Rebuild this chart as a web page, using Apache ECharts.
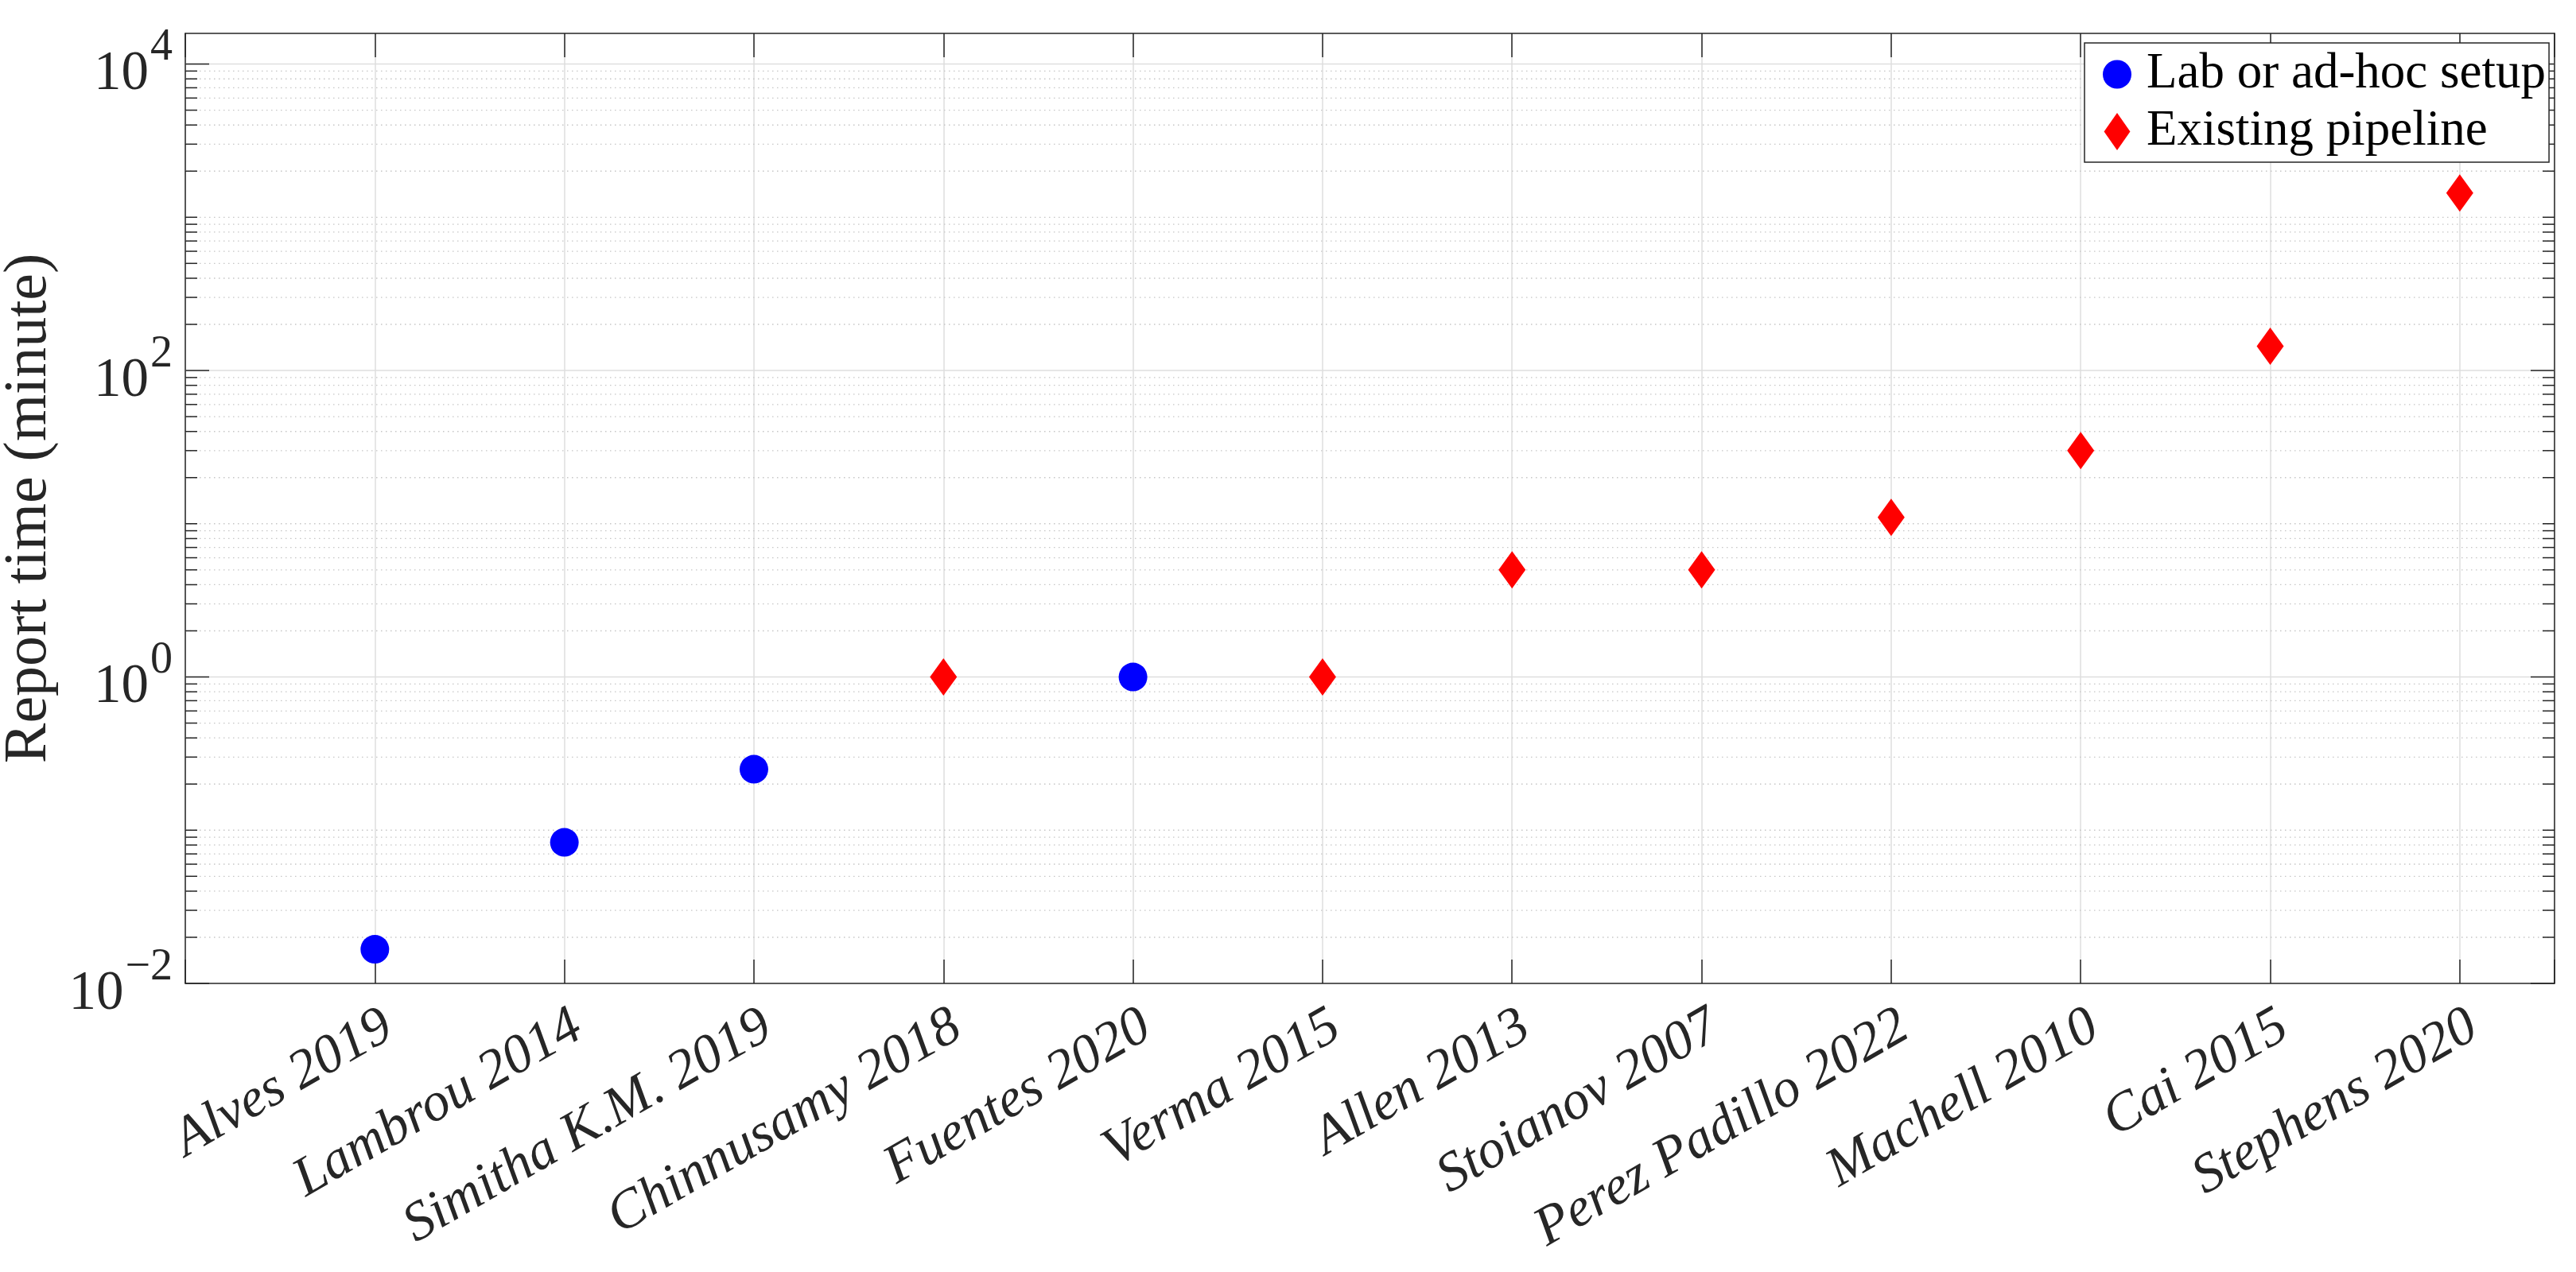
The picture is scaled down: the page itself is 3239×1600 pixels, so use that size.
<!DOCTYPE html>
<html>
<head>
<meta charset="utf-8">
<script src="https://cdn.jsdelivr.net/npm/echarts@6/dist/echarts.min.js"></script>
<style>
html,body{margin:0;padding:0;background:#fff;}
#chart{width:3239px;height:1600px;}
</style>
</head>
<body>
<div id="chart"></div>
<script>
// ---- data ----
const categories = ['Alves 2019', 'Lambrou 2014', 'Simitha K.M. 2019', 'Chinnusamy 2018', 'Fuentes 2020',
  'Verma 2015', 'Allen 2013', 'Stoianov 2007', 'Perez Padillo 2022', 'Machell 2010', 'Cai 2015', 'Stephens 2020'];
const labTimes      = [0.0167, 0.0833, 0.25, null, 1, null, null, null, null, null, null, null];
const pipelineTimes = [null, null, null, 1, null, 1, 5, 5, 11, 30, 144, 1440];
const seriesNames = ['Lab or ad-hoc setup', 'Existing pipeline'];
const yTickExponents = [-2, 0, 2, 4];

// ---- setup ----
const FONT = 'Liberation Serif';
const AX = '#262626';
const Y_MIN = 0.01, Y_MAX = Math.pow(10, 4.2);
const X_MIN = 0, X_MAX = categories.length + 0.5;
const DIAMOND = 'path://M0,-10L7,0L0,10L-7,0Z';

function toPoints(arr) {
  const out = [];
  arr.forEach((v, i) => { if (v != null) out.push([i + 1, v]); });
  return out;
}

// y-axis grid / tick positions (log decades with 2..9 minor steps)
const yGrid = [];
for (let e = -2; e <= 4; e++) {
  for (let m = 1; m <= 9; m++) {
    const v = m * Math.pow(10, e);
    if (v > Y_MAX * 1.0001) break;
    yGrid.push([X_MIN, v, (m === 1 && yTickExponents.includes(e)) ? 1 : 0]);
  }
}

function yLabel(v) {
  const e = Math.log10(v);
  const r = Math.round(e);
  if (Math.abs(e - r) > 1e-6 || !yTickExponents.includes(r)) return '';
  return '{a|10}{b|' + (r < 0 ? '\u2212' + (-r) : String(r)) + '}';
}

const chart = echarts.init(document.getElementById('chart'), null, { renderer: 'canvas' });
chart.setOption({
  animation: false,
  backgroundColor: '#ffffff',
  grid: { left: 233, right: 27, top: 42, bottom: 363, containLabel: false, outerBoundsMode: 'none' },
  legend: {
    data: [
      { name: seriesNames[0], icon: 'circle' },
      { name: seriesNames[1], icon: DIAMOND }
    ],
    orient: 'vertical',
    left: 2621, top: 54,
    padding: [8, 4, 7, 23],
    itemWidth: 36, itemHeight: 47, itemGap: 9,
    selectedMode: false,
    backgroundColor: '#ffffff',
    borderColor: AX, borderWidth: 1.5, borderRadius: 0,
    textStyle: { fontFamily: FONT, fontSize: 63, color: '#000000', lineHeight: 62, padding: [0, 0, 0, 14] }
  },
  xAxis: [
    {
      type: 'value', min: X_MIN, max: X_MAX, interval: 1, position: 'bottom',
      axisLine: { show: true, onZero: false, lineStyle: { color: AX, width: 1.5 } },
      axisTick: { show: true, inside: true, length: 30, lineStyle: { color: AX, width: 1.5 } },
      axisLabel: {
        show: true, rotate: 30, margin: 20, verticalAlign: 'top',
        fontFamily: FONT, fontStyle: 'italic', fontSize: 69, color: AX,
        formatter: v => (Math.abs(v - Math.round(v)) < 1e-9 && v >= 1 && v <= categories.length) ? categories[Math.round(v) - 1] : ''
      },
      splitLine: { show: true, lineStyle: { color: '#dedede', width: 1.5 } }
    },
    {
      type: 'value', min: X_MIN, max: X_MAX, interval: 1, position: 'top',
      axisLine: { show: true, onZero: false, lineStyle: { color: AX, width: 1.5 } },
      axisTick: { show: true, inside: true, length: 30, lineStyle: { color: AX, width: 1.5 } },
      axisLabel: { show: false },
      splitLine: { show: false }
    }
  ],
  yAxis: [
    {
      type: 'log', logBase: 10, min: Y_MIN, max: Y_MAX, position: 'left',
      axisLine: { show: true, onZero: false, lineStyle: { color: AX, width: 1.5 } },
      axisTick: { show: false }, minorTick: { show: false }, splitLine: { show: false },
      axisLabel: {
        margin: 16, color: AX, fontFamily: FONT,
        formatter: yLabel,
        rich: {
          a: { fontFamily: FONT, fontSize: 69, lineHeight: 69, color: AX, padding: [27, 0, 0, 0] },
          b: { fontFamily: FONT, fontSize: 56, lineHeight: 56, color: AX, padding: [0, 0, 40, 2] }
        }
      },
      name: 'Report time (minute)', nameLocation: 'middle', nameRotate: 90, nameGap: 135,
      nameTextStyle: { fontFamily: FONT, fontSize: 76, color: AX }
    },
    {
      type: 'log', logBase: 10, min: Y_MIN, max: Y_MAX, position: 'right',
      axisLine: { show: true, onZero: false, lineStyle: { color: AX, width: 1.5 } },
      axisTick: { show: false }, minorTick: { show: false }, splitLine: { show: false },
      axisLabel: { show: false }
    }
  ],
  series: [
    {
      name: 'yGrid', type: 'custom', xAxisIndex: 0, yAxisIndex: 0, z: 1, silent: true,
      encode: { x: 0, y: 1 },
      data: yGrid,
      renderItem: function (params, api) {
        const v = api.value(1);
        const major = api.value(2) === 1;
        const L = api.coord([X_MIN, v]);
        const R = api.coord([X_MAX, v]);
        const tl = major ? 30 : 15;
        const children = [];
        if (v > Y_MIN * 1.0001) {
          children.push({
            type: 'line', shape: { x1: L[0], y1: L[1], x2: R[0], y2: R[1] },
            style: major ? { stroke: '#dedede', lineWidth: 1.5 } : { stroke: '#c6c6c6', lineWidth: 1.3, lineDash: [1.5, 4.5] }
          });
        }
        children.push({ type: 'line', shape: { x1: L[0], y1: L[1], x2: L[0] + tl, y2: L[1] }, style: { stroke: AX, lineWidth: 1.5 } });
        children.push({ type: 'line', shape: { x1: R[0] - tl, y1: R[1], x2: R[0], y2: R[1] }, style: { stroke: AX, lineWidth: 1.5 } });
        return { type: 'group', children: children };
      }
    },
    {
      name: seriesNames[0], type: 'scatter', xAxisIndex: 0, yAxisIndex: 0, z: 3,
      symbol: 'circle', symbolSize: 36,
      itemStyle: { color: '#0000ff', opacity: 1 },
      data: toPoints(labTimes)
    },
    {
      name: seriesNames[1], type: 'scatter', xAxisIndex: 0, yAxisIndex: 0, z: 3,
      symbol: DIAMOND, symbolSize: [34, 47],
      itemStyle: { color: '#ff0000', opacity: 1 },
      data: toPoints(pipelineTimes)
    }
  ]
});
</script>
</body>
</html>
